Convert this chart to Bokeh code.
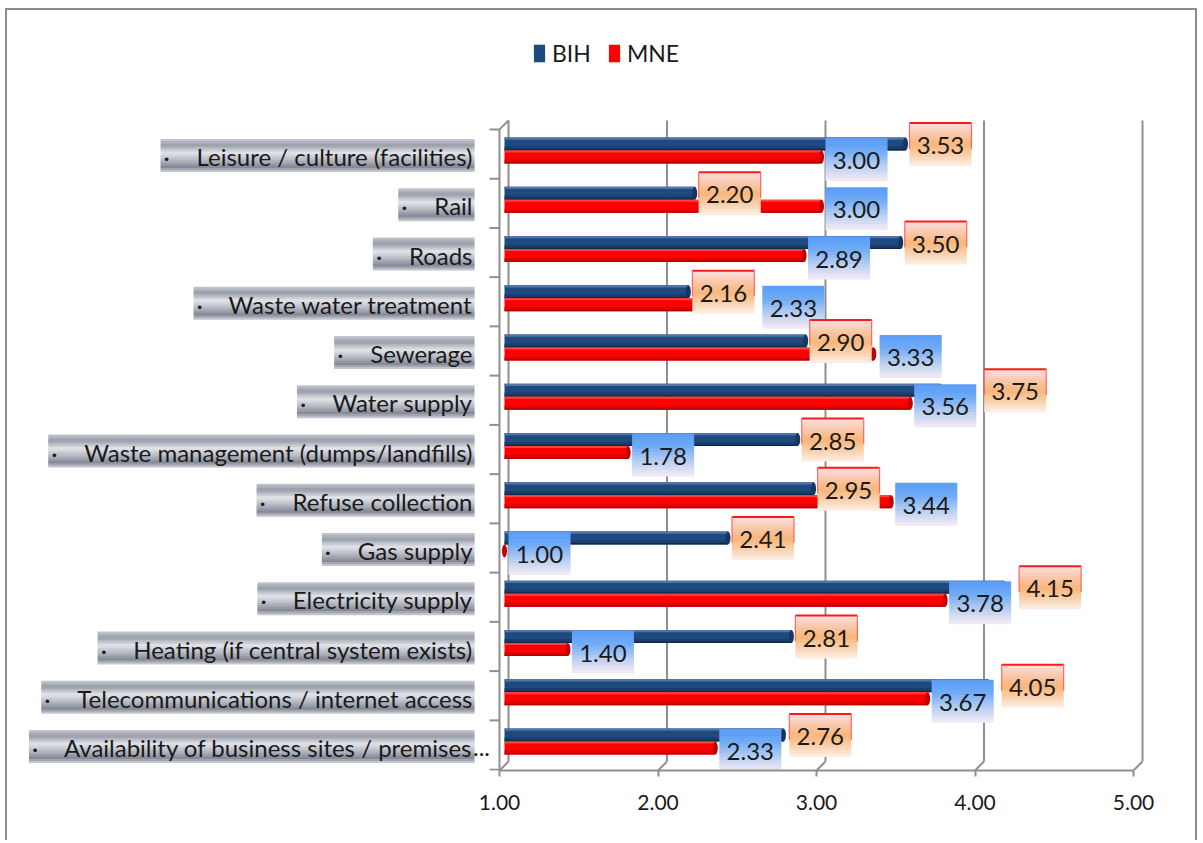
import glob
import os

from bokeh.core.properties import value
from bokeh.embed import file_html
from bokeh.models import (ColumnDataSource, FixedTicker, Legend, LegendItem,
                          LinearAxis, NumeralTickFormatter, Range1d)
from bokeh.plotting import figure
from bokeh.resources import INLINE

# ---------------- data ----------------
categories = [
    "Leisure / culture (facilities)",
    "Rail",
    "Roads",
    "Waste water treatment",
    "Sewerage",
    "Water supply",
    "Waste management (dumps/landfills)",
    "Refuse collection",
    "Gas supply",
    "Electricity supply",
    "Heating (if central system exists)",
    "Telecommunications / internet access",
    "Availability of business sites / premises...",
]
bih = [3.53, 2.20, 3.50, 2.16, 2.90, 3.75, 2.85, 2.95, 2.41, 4.15, 2.81, 4.05, 2.76]
mne = [3.00, 3.00, 2.89, 2.33, 3.33, 3.56, 1.78, 3.44, 1.00, 3.78, 1.40, 3.67, 2.33]
series = ["BIH", "MNE"]
x_ticks = [1.0, 2.0, 3.0, 4.0, 5.0]

# ---------------- layout / style ----------------
FONT = "Lato"
ML, MT, BW = 5, 8, 2          # css margin-left, margin-top, border width
W, H = 1192, 832
CX0, CY0 = ML + BW, MT + BW   # page offset of the canvas
FRAME_BOTTOM = 770            # page y of the front floor / x axis line
XPX, X1PX = 158.5, 504.0      # px per unit, page x of value 1 on the bar plane
YPX, Y0PX = 49.25, 150.0      # px per category, page y of first category centre
FRONT_DX, BACK_DX = -5.0, 4.0
BACK_TOP, BACK_BOTTOM = 120.0, 761.0
GRID = "#8f8f8f"
TXT = "#1a1a1a"


def vx(px):
    return 1.0 + (px - X1PX) / XPX


def sy(py):
    return (py - Y0PX) / YPX


def bpx(v):
    return X1PX + (v - 1.0) * XPX


def hex2rgb(h):
    return tuple(int(h[i:i + 2], 16) for i in (1, 3, 5))


def grad(stops, n):
    out = []
    for k in range(n):
        t = (k + 0.5) / n
        for (t0, c0), (t1, c1) in zip(stops, stops[1:]):
            if t0 <= t <= t1:
                f = (t - t0) / (t1 - t0) if t1 > t0 else 0.0
                a, b = hex2rgb(c0), hex2rgb(c1)
                out.append("#%02x%02x%02x" % tuple(int(round(a[j] + (b[j] - a[j]) * f)) for j in range(3)))
                break
    return out


def find_font_file(fname):
    roots = ["/usr/share/fonts", "/usr/local/share/fonts",
             os.path.expanduser("~/.fonts"), os.path.expanduser("~/.local/share/fonts")]
    for r in roots:
        if os.path.isdir(r):
            hits = glob.glob(os.path.join(r, "**", fname), recursive=True)
            if hits:
                return hits[0]
    return None


_font_path = find_font_file("Lato-Regular.ttf")
_font_cache = {}


def text_width(txt, size):
    if _font_path:
        try:
            from PIL import ImageFont
            key = int(round(size * 10))
            if key not in _font_cache:
                _font_cache[key] = ImageFont.truetype(_font_path, size=key)
            return _font_cache[key].getlength(txt) / 10.0
        except Exception:
            pass
    return len(txt) * 0.5 * size


# font size for category names so the longest matches the reference width
_w100 = text_width("Telecommunications / internet access", 100)
NAME_SIZE = max(16.0, min(26.0, round(2 * 100 * 395.0 / _w100) / 2.0))
VAL_SIZE = 24

p = figure(width=W, height=H, title=None,
           x_range=Range1d(vx(CX0), vx(CX0 + W)),
           y_range=Range1d(sy(FRAME_BOTTOM), sy(CY0)),
           output_backend="svg", toolbar_location=None,
           x_axis_location=None, y_axis_location=None,
           min_border_left=0, min_border_right=0, min_border_top=0,
           min_border_bottom=H - (FRAME_BOTTOM - CY0))
p.extra_x_ranges = {"front": Range1d(1 + (CX0 - (X1PX + FRONT_DX)) / XPX,
                                     1 + (CX0 + W - (X1PX + FRONT_DX)) / XPX)}
p.outline_line_color = None
p.background_fill_color = "white"
p.border_fill_color = "white"
p.grid.visible = False
_b = "%dpx solid #8c8c8c" % BW
p.styles = {"border-top": _b, "border-left": _b, "border-right": _b,
            "margin-left": "%dpx" % ML, "margin-top": "%dpx" % MT}

# ---------------- 3D walls / grid ----------------
back_x = [vx(bpx(t) + BACK_DX) for t in x_ticks]
front_x = [vx(bpx(t) + FRONT_DX) for t in x_ticks]
p.segment(x0=back_x, y0=[sy(BACK_TOP)] * len(x_ticks), x1=back_x,
          y1=[sy(BACK_BOTTOM)] * len(x_ticks), line_color=GRID, line_width=2)
p.segment(x0=front_x, y0=[sy(FRAME_BOTTOM)] * len(x_ticks), x1=back_x,
          y1=[sy(BACK_BOTTOM)] * len(x_ticks), line_color=GRID, line_width=2)

fx1 = front_x[0]
top_front = Y0PX - YPX / 2 + 3.5
p.segment(x0=[fx1], y0=[sy(top_front)], x1=[fx1], y1=[sy(FRAME_BOTTOM)],
          line_color=GRID, line_width=2)
p.segment(x0=[fx1], y0=[sy(top_front)], x1=[back_x[0]], y1=[sy(BACK_TOP)],
          line_color=GRID, line_width=2)
tick_y = [sy(top_front + k * YPX) for k in range(len(categories) + 1)]
p.segment(x0=[vx(bpx(1) + FRONT_DX - 10)] * len(tick_y), y0=tick_y,
          x1=[fx1] * len(tick_y), y1=tick_y, line_color=GRID, line_width=2)

# ---------------- bars ----------------
BAR_H = 13.0
bar_styles = [
    dict(body="#1f4a80", cap="#17365f",
         strips=[(0.0, 0.18, "#4f74a8"), (0.70, 0.88, "#193d6c"), (0.88, 1.0, "#10284a")]),
    dict(body="#ff0000", cap="#c00000",
         strips=[(0.0, 0.15, "#ff4040"), (0.70, 0.88, "#e40000"), (0.88, 1.0, "#b00000")]),
]
bar_renderers = []
for k, vals in enumerate([bih, mne]):
    st = bar_styles[k]
    tops = [Y0PX + i * YPX - (BAR_H if k == 0 else 0.0) for i in range(len(categories))]
    src = ColumnDataSource(dict(y=[sy(t + BAR_H / 2) for t in tops], right=vals,
                                name=categories))
    r = p.hbar(y="y", height=BAR_H / YPX, left=1.0, right="right", source=src,
               fill_color=st["body"], line_color=None)
    bar_renderers.append(r)
    for f0, f1, col in st["strips"]:
        p.hbar(y=[sy(t + (f0 + f1) / 2 * BAR_H) for t in tops],
               height=(f1 - f0) * BAR_H / YPX, left=1.0, right=vals,
               fill_color=col, line_color=None)
    p.ellipse(x=vals, y=[sy(t + BAR_H / 2) for t in tops], width=5.0 / XPX,
              height=BAR_H / YPX, fill_color=st["cap"], line_color=None)

# ---------------- value labels ----------------
BOX_W, BOX_H, GAP = 62.0, 43.0, 8.0
o_boxes, b_boxes = [], []
for i in range(len(categories)):
    c = Y0PX + i * YPX
    ol = bpx(bih[i]) + 4
    bl = bpx(mne[i]) + 4
    if ol >= bl:
        if ol < bl + BOX_W + GAP:
            ol = bl + BOX_W + GAP
    else:
        if bl < ol + BOX_W + GAP:
            bl = ol + BOX_W + GAP
    oc, bc = c - 6, c + 9
    o_boxes.append((ol, ol + BOX_W, oc - BOX_H / 2, oc + BOX_H / 2))
    b_boxes.append((bl, bl + BOX_W, bc - BOX_H / 2, bc + BOX_H / 2))


def add_gradient_boxes(boxes, stops, n):
    L, R, T, B, C = [], [], [], [], []
    cols = grad(stops, n)
    for (l, r, t, b) in boxes:
        h = (b - t) / n
        for k in range(n):
            L.append(vx(l))
            R.append(vx(r))
            T.append(sy(t + k * h))
            B.append(sy(min(b, t + (k + 1) * h + 0.7)))
            C.append(cols[k])
    p.quad(left=L, right=R, top=T, bottom=B, fill_color=C, line_color=None)


blue_stops = [(0.0, "#5a9cf8"), (0.3, "#6eaaf6"), (0.65, "#b8cff1"), (1.0, "#f6ecf6")]
orange_stops = [(0.0, "#fbe0e0"), (0.2, "#fbcdb8"), (0.5, "#f8b578"),
                (0.8, "#fbd6b8"), (1.0, "#fdf1ea")]

add_gradient_boxes(b_boxes, blue_stops, 14)
add_gradient_boxes(o_boxes, orange_stops, 14)
# red frame on orange boxes (top + upper sides)
p.segment(x0=[vx(b[0]) for b in o_boxes], y0=[sy(b[2]) for b in o_boxes],
          x1=[vx(b[1]) for b in o_boxes], y1=[sy(b[2]) for b in o_boxes],
          line_color="#ff1a1a", line_width=2)
for side in (0, 1):
    p.segment(x0=[vx(b[side]) for b in o_boxes], y0=[sy(b[2]) for b in o_boxes],
              x1=[vx(b[side]) for b in o_boxes], y1=[sy(b[2] + 0.6 * BOX_H) for b in o_boxes],
              line_color="#ff5050", line_width=1.2, line_alpha=0.85)

for boxes, vals in ((b_boxes, mne), (o_boxes, bih)):
    p.text(x=[vx((b[0] + b[1]) / 2) for b in boxes],
           y=[sy((b[2] + b[3]) / 2 + 1) for b in boxes],
           text=["%.2f" % v for v in vals],
           text_font=value(FONT), text_font_size="%dpx" % VAL_SIZE,
           text_align="center", text_baseline="middle", text_color=TXT)

# ---------------- category labels (metallic boxes) ----------------
TEXT_RIGHT, BOX_RIGHT = 472.0, 474.0
NAME_BOX_H = 33.0
metal_stops = [(0.0, "#c9ccd4"), (0.18, "#959aa6"), (0.42, "#e4e5ea"),
               (0.62, "#b9bcc6"), (0.85, "#868a97"), (1.0, "#d3d5dc")]
name_boxes, name_txt, name_y, bullet_x, tails = [], [], [], [], []
for i, name in enumerate(categories):
    txt, tail = (name[:-3], "...") if name.endswith("...") else (name, "")
    tw = text_width(txt, NAME_SIZE)
    left = TEXT_RIGHT - tw - 36
    cy = Y0PX + i * YPX + 5
    name_boxes.append((left, BOX_RIGHT, cy - NAME_BOX_H / 2, cy + NAME_BOX_H / 2))
    name_txt.append(txt)
    name_y.append(sy(cy + 1))
    bullet_x.append(vx(left + 3))
    tails.append(tail)

add_gradient_boxes(name_boxes, metal_stops, 16)
p.text(x=[vx(TEXT_RIGHT)] * len(name_txt), y=name_y, text=name_txt,
       text_font=value(FONT), text_font_size="%.1fpx" % NAME_SIZE,
       text_align="right", text_baseline="middle", text_color=TXT)
p.text(x=bullet_x, y=name_y, text=["·"] * len(name_txt),
       text_font=value(FONT), text_font_size="%.1fpx" % NAME_SIZE,
       text_align="left", text_baseline="middle", text_color=TXT)
tail_idx = [i for i, t in enumerate(tails) if t]
if tail_idx:
    p.text(x=[vx(TEXT_RIGHT + 0.5)] * len(tail_idx), y=[name_y[i] for i in tail_idx],
           text=[tails[i] for i in tail_idx],
           text_font=value(FONT), text_font_size="%.1fpx" % NAME_SIZE,
           text_align="left", text_baseline="middle", text_color=TXT)

# ---------------- x axis (front plane) ----------------
ax = LinearAxis(x_range_name="front", ticker=FixedTicker(ticks=x_ticks),
                formatter=NumeralTickFormatter(format="0.00"))
ax.bounds = (x_ticks[0], x_ticks[-1])
ax.axis_line_color = GRID
ax.axis_line_width = 2
ax.major_tick_line_color = GRID
ax.major_tick_line_width = 2
ax.major_tick_in = 0
ax.major_tick_out = 6
ax.minor_tick_line_color = None
ax.major_label_text_font = FONT
ax.major_label_text_font_size = "21px"
ax.major_label_text_color = TXT
ax.major_label_standoff = 18
p.add_layout(ax, "below")

# ---------------- legend ----------------
legend = Legend(items=[LegendItem(label=series[0], renderers=[bar_renderers[0]]),
                       LegendItem(label=series[1], renderers=[bar_renderers[1]])],
                orientation="horizontal", location=(525, 703), padding=0, margin=0,
                spacing=16, glyph_width=14, glyph_height=22, label_height=22,
                label_standoff=6, label_text_font=FONT, label_text_font_size="23px",
                label_text_color=TXT, border_line_color=None, background_fill_alpha=0)
p.add_layout(legend)

open("out.html", "w").write(file_html(p, INLINE))
